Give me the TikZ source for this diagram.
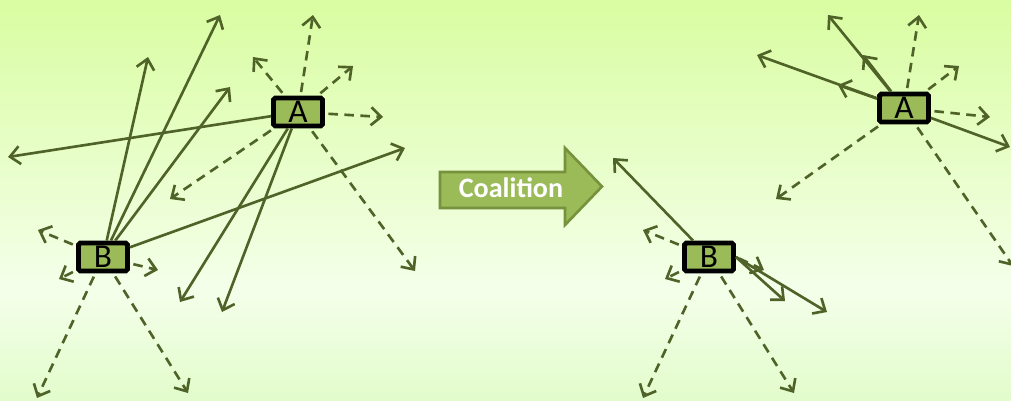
\documentclass[tikz,border=0pt]{standalone}
\usepackage{fontspec}
\setmainfont{Carlito}
\usepackage{tikz}
\usetikzlibrary{arrows.meta}
\definecolor{bgtop}{RGB}{217,253,161}
\definecolor{bgmid}{RGB}{244,255,234}
\definecolor{bgbot}{RGB}{226,252,203}
\definecolor{olivedark}{RGB}{79,98,40}
\definecolor{boxgreen}{RGB}{155,187,89}
\definecolor{arrowedge}{RGB}{118,146,60}

\begin{document}
\begin{tikzpicture}[
    x=0.02cm, y=-0.02cm,
    agent/.style={
      rectangle, rounded corners=1pt, draw=black, line width=2.8pt,
      fill=boxgreen, minimum width=0.98cm, minimum height=0.56cm,
      inner sep=0pt, font=\fontsize{19}{19}\selectfont
    },
    infl/.style={draw=olivedark, line width=1.5pt,
      -{Straight Barb[length=0.2cm, width=0.36cm]}},
    weak/.style={infl, dash pattern=on 0.19cm off 0.13cm, shorten <=2pt},
    coalarrow/.style={fill=boxgreen, draw=arrowedge, line width=1.5pt},
  ]
  %% --- Background ---
  \useasboundingbox (0,0) rectangle (1011,400);
  \shade[top color=bgtop, bottom color=bgmid] (0,0) rectangle (1011,290);
  \shade[top color=bgmid, bottom color=bgbot] (0,290) rectangle (1011,400);

  %% --- Before: separate agents ---
  \node[agent] (lA) at (298,112) {A};
  \node[agent] (lB) at (103,257) {B};

  \coordinate (lA1) at (8,157);
  \coordinate (lA2) at (180,302);
  \coordinate (lA3) at (222,312);
  \coordinate (lA4) at (313,15);
  \coordinate (lA5) at (253,57);
  \coordinate (lA6) at (353,66);
  \coordinate (lA7) at (383,117);
  \coordinate (lA8) at (170,199);
  \coordinate (lA9) at (415,271);

  \coordinate (lB1) at (148,57);
  \coordinate (lB2) at (220,15);
  \coordinate (lB3) at (230,87);
  \coordinate (lB4) at (405,148);
  \coordinate (lB5) at (38,230);
  \coordinate (lB6) at (59,279);
  \coordinate (lB7) at (158,270);
  \coordinate (lB8) at (37,398);
  \coordinate (lB9) at (188,393);

  \path (lA) edge[infl] (lA1) edge[infl] (lA2) edge[infl] (lA3)
        edge[weak] (lA4) edge[weak] (lA5) edge[weak] (lA6)
        edge[weak] (lA7) edge[weak] (lA8) edge[weak] (lA9);
  \path (lB) edge[infl] (lB1) edge[infl] (lB2) edge[infl] (lB3)
        edge[infl] (lB4)
        edge[weak] (lB5) edge[weak] (lB6) edge[weak] (lB7)
        edge[weak] (lB8) edge[weak] (lB9);

  %% --- Coalition arrow ---
  \draw[coalarrow] (440,172) -- (565,172) -- (565,148) -- (602,186.5)
    -- (565,225) -- (565,208) -- (440,208) -- cycle;
  \node[text=white, font=\fontsize{16}{16}\selectfont\bfseries] (coal)
    at (511,188) {Coalition};

  %% --- After: coalition ---
  \node[agent] (rA) at (904,108) {A};
  \node[agent] (rB) at (709,257) {B};

  \coordinate (rA1) at (828,15);
  \coordinate (rA2) at (863,55);
  \coordinate (rA3) at (757,55);
  \coordinate (rA4) at (838,85);
  \coordinate (rA5) at (1010,147);
  \coordinate (rA6) at (919,15);
  \coordinate (rA7) at (959,66);
  \coordinate (rA8) at (990,117);
  \coordinate (rA9) at (776,199);
  \coordinate (rA10) at (1013,266);

  \coordinate (rB1) at (613,158);
  \coordinate (rB2) at (785,301);
  \coordinate (rB3) at (827,312);
  \coordinate (rB4) at (643,230);
  \coordinate (rB5) at (665,279);
  \coordinate (rB6) at (764,270);
  \coordinate (rB7) at (643,398);
  \coordinate (rB8) at (794,393);

  \path (rA) edge[infl] (rA1) edge[infl] (rA2) edge[infl] (rA3)
        edge[infl] (rA4) edge[infl] (rA5)
        edge[weak] (rA6) edge[weak] (rA7) edge[weak] (rA8)
        edge[weak] (rA9) edge[weak] (rA10);
  \path (rB) edge[infl] (rB1)
        edge[weak] (rB4) edge[weak] (rB5)
        edge[weak] (rB7) edge[weak] (rB8);
  \path (rB.east) edge[infl] (rB2) edge[infl] (rB3) edge[weak] (rB6);
\end{tikzpicture}
\end{document}
